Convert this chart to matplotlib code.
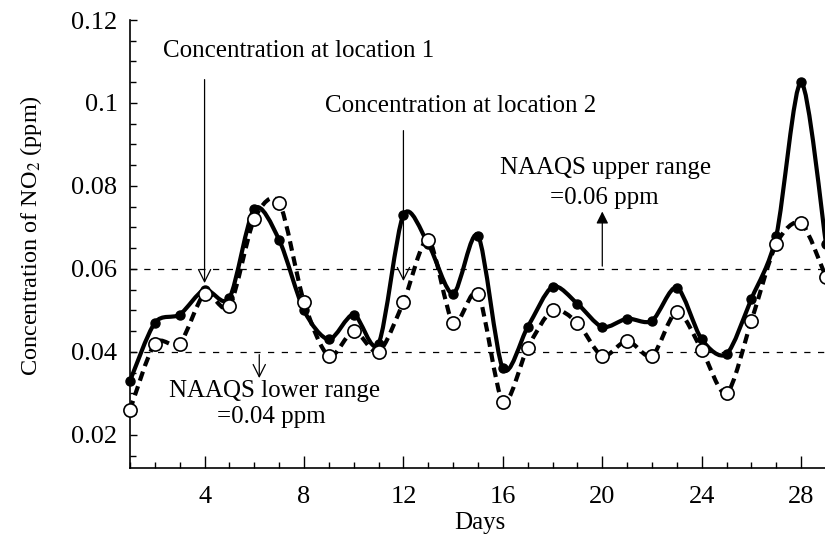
import numpy as np
import matplotlib.pyplot as plt
from matplotlib.path import Path
from matplotlib.patches import PathPatch
from matplotlib.ticker import MultipleLocator, FormatStrFormatter

plt.rcParams['font.family'] = ['Liberation Serif', 'DejaVu Serif']
plt.rcParams['mathtext.fontset'] = 'stix'

days = list(range(1, 30))
loc1 = [0.033, 0.047, 0.049, 0.055, 0.053, 0.0745, 0.067, 0.050, 0.043, 0.049,
        0.042, 0.073, 0.066, 0.054, 0.068, 0.036, 0.046, 0.0557, 0.0516, 0.046,
        0.048, 0.0475, 0.0555, 0.043, 0.0395, 0.0528, 0.068, 0.105, 0.066]
loc2 = [0.026, 0.042, 0.042, 0.054, 0.051, 0.072, 0.076, 0.052, 0.039, 0.045,
        0.040, 0.052, 0.067, 0.047, 0.054, 0.028, 0.041, 0.050, 0.047, 0.039,
        0.0427, 0.039, 0.0497, 0.0405, 0.030, 0.0475, 0.066, 0.071, 0.058]
upper_limit = 0.06
lower_limit = 0.04


def smooth_path(x, y):
    # catmull-rom curve through the points, as cubic bezier segments
    pts = np.column_stack([x, y])
    n = len(pts)
    verts = [pts[0]]
    codes = [Path.MOVETO]
    for i in range(n - 1):
        p0 = pts[max(i - 1, 0)]
        p1 = pts[i]
        p2 = pts[i + 1]
        p3 = pts[min(i + 2, n - 1)]
        verts += [p1 + (p2 - p0) / 7, p2 - (p3 - p1) / 7, p2]
        codes += [Path.CURVE4] * 3
    return Path(verts, codes)


fig = plt.figure(figsize=(8.25, 5.4), dpi=100)
ax = fig.add_axes([130 / 825, 1 - 468 / 540, 696 / 825, 448 / 540])

ax.axhline(upper_limit, color='black', lw=0.9, ls=(0, (5, 6)))
ax.axhline(lower_limit, color='black', lw=0.9, ls=(0, (5, 6)))

ax.add_patch(PathPatch(smooth_path(days, loc1), fill=False, lw=3.0,
                       color='black', capstyle='round', clip_on=False))
ax.add_patch(PathPatch(smooth_path(days, loc2), fill=False, lw=3.0,
                       color='black', ls=(0, (2.3, 1.4)), clip_on=False))
ax.plot(days, loc1, 'o', color='black', ms=6.5, clip_on=False, zorder=3)
ax.plot(days, loc2, 'o', mfc='white', mec='black', mew=1.2, ms=9.5,
        clip_on=False, zorder=4)

ax.set_xlim(1, 29)
ax.set_ylim(0.012, 0.12)
ax.spines['top'].set_visible(False)
ax.spines['right'].set_visible(False)
ax.spines['left'].set_linewidth(1.2)
ax.spines['bottom'].set_linewidth(1.2)

ax.xaxis.set_major_locator(MultipleLocator(4))
ax.xaxis.set_minor_locator(MultipleLocator(1))
ax.yaxis.set_major_locator(MultipleLocator(0.02))
ax.yaxis.set_minor_locator(MultipleLocator(0.005))
ax.yaxis.set_major_formatter(FormatStrFormatter('%g'))
ax.set_xticks([4, 8, 12, 16, 20, 24, 28])
ax.tick_params(axis='x', which='major', direction='in', length=8.5, width=1, labelsize=19, pad=13)
ax.tick_params(axis='x', which='minor', direction='in', length=4, width=1)
ax.tick_params(axis='y', which='major', direction='in', length=5, width=1, labelsize=19, pad=9)
ax.tick_params(axis='y', which='minor', direction='in', length=4, width=1)

ax.set_xlabel('Days', fontsize=18)
ax.xaxis.set_label_coords(0.503, -0.098)
ax.set_ylabel('Concentration of NO$_2$ (ppm)', fontsize=17.5)
ax.yaxis.set_label_coords(-0.124, 0.52)

# annotations
ax.text(7.8, 0.1125, 'Concentration at location 1', fontsize=18, ha='center', va='center')
ax.annotate('', xy=(4, 0.0559), xytext=(4, 0.1063),
            arrowprops=dict(arrowstyle='->', lw=0.9, color='black', mutation_scale=22))
ax.text(14.3, 0.0993, 'Concentration at location 2', fontsize=18, ha='center', va='center')
ax.annotate('', xy=(12, 0.0564), xytext=(12, 0.094),
            arrowprops=dict(arrowstyle='->', lw=0.9, color='black', mutation_scale=22))

ax.text(20.15, 0.0843, 'NAAQS upper range', fontsize=18, ha='center', va='center')
ax.text(20.07, 0.0771, '=0.06 ppm', fontsize=18, ha='center', va='center')
ax.annotate('', xy=(20, 0.0745), xytext=(20, upper_limit),
            arrowprops=dict(arrowstyle='-|>', lw=0.9, color='black', mutation_scale=18))

ax.text(6.8, 0.0306, 'NAAQS lower range', fontsize=18, ha='center', va='center')
ax.text(6.7, 0.0243, '=0.04 ppm', fontsize=18, ha='center', va='center')
ax.annotate('', xy=(6.2, 0.033), xytext=(6.2, lower_limit),
            arrowprops=dict(arrowstyle='->', lw=0.9, color='black', mutation_scale=22))

plt.savefig('out.png', dpi=100)
